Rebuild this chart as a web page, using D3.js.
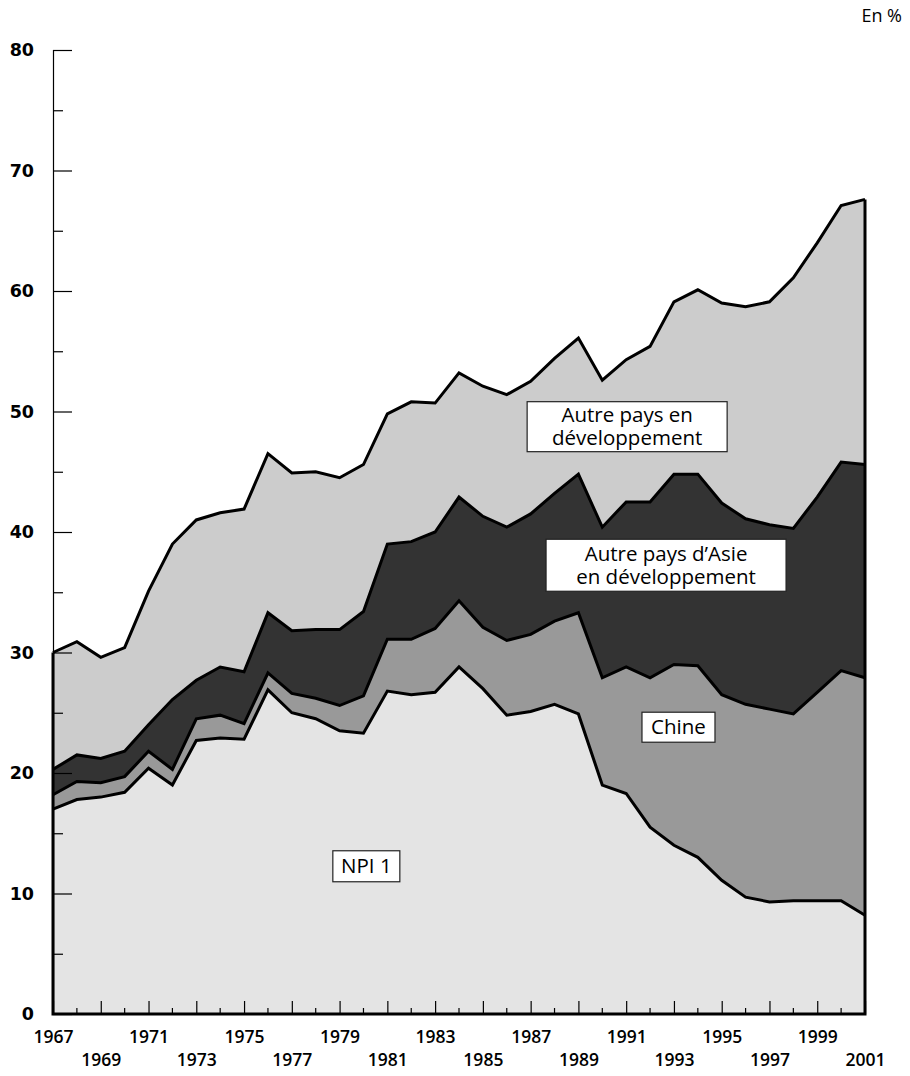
<!DOCTYPE html>
<html>
<head>
<meta charset="utf-8">
<script src="https://cdn.jsdelivr.net/npm/d3@7"></script>
<style>
  html, body { margin: 0; padding: 0; background: #fff; }
  svg { display: block; font-family: "Open Sans", "Noto Sans", sans-serif; }
</style>
</head>
<body>
<svg id="chart" width="910" height="1076"></svg>
<script>
// ---- Data (shares, %) ----
const years = d3.range(1967, 2002);
const npi1 = [17.0,17.8,18.0,18.4,20.4,19.0,22.7,22.9,22.8,26.9,25.0,24.5,23.5,23.3,26.8,26.5,26.7,28.8,27.0,24.8,25.1,25.7,24.9,19.0,18.3,15.5,14.0,13.0,11.1,9.7,9.3,9.4,9.4,9.4,8.2];
const chine = [1.2,1.5,1.2,1.3,1.4,1.3,1.8,1.9,1.3,1.4,1.6,1.7,2.1,3.1,4.3,4.6,5.3,5.5,5.1,6.2,6.4,6.9,8.4,8.9,10.5,12.4,15.0,15.9,15.4,16.0,16.0,15.5,17.3,19.1,19.7];
const asie = [2.1,2.2,2.0,2.1,2.2,5.8,3.2,4.0,4.3,5.0,5.2,5.7,6.3,7.0,7.9,8.1,8.0,8.6,9.2,9.4,10.0,10.6,11.5,12.5,13.7,14.6,15.8,15.9,15.9,15.4,15.3,15.4,16.2,17.3,17.7];
const autres = [9.7,9.4,8.4,8.6,11.1,12.9,13.3,12.8,13.5,13.2,13.1,13.1,12.6,12.2,10.8,11.6,10.7,10.3,10.8,11.0,11.0,11.2,11.3,12.2,11.8,12.9,14.3,15.3,16.6,17.6,18.5,20.8,21.1,21.3,22.0];

const seriesKeys = ["npi1", "chine", "asie", "autres"];
const seriesColors = { npi1: "#e4e4e4", chine: "#999999", asie: "#333333", autres: "#cccccc" };

const yTicks = [0, 10, 20, 30, 40, 50, 60, 70, 80];
const yMinorTicks = [5, 15, 25, 35, 45, 55, 65, 75];
const xTicks = d3.range(1967, 2002, 2);
const xMinorTicks = d3.range(1968, 2001, 2);

const labels = [
  { lines: ["Autre pays en", "développement"], year: 1991.04, value: 48.74, w: 200, h: 50 },
  { lines: ["Autre pays d\u2019Asie", "en développement"], year: 1992.67, value: 37.24, w: 240, h: 52 },
  { lines: ["Chine"], year: 1993.19, value: 23.8, w: 73, h: 30 },
  { lines: ["NPI 1"], year: 1980.12, value: 12.26, w: 67, h: 31 }
];

// ---- Build table ----
const table = years.map((yr, i) => ({ year: yr, npi1: npi1[i], chine: chine[i], asie: asie[i], autres: autres[i] }));
const stacked = d3.stack().keys(seriesKeys)(table);

const svg = d3.select("#chart");
const x = d3.scaleLinear().domain([1967, 2001]).range([53, 865]);
const y = d3.scaleLinear().domain([0, 80]).range([1014, 50]);

// Areas
const area = d3.area()
  .x(d => x(d.data.year))
  .y0(d => y(d[0]))
  .y1(d => y(d[1]));

svg.append("g").selectAll("path")
  .data(stacked)
  .join("path")
  .attr("d", area)
  .attr("fill", d => seriesColors[d.key])
  .attr("stroke", "none");

// Y axis (thin line + inside ticks)
const yAxis = d3.axisLeft(y).tickValues(yTicks).tickSize(-19).tickPadding(19).tickFormat(d3.format("d"));
const gy = svg.append("g").attr("transform", `translate(${x(1967)},0)`).call(yAxis);
gy.attr("font-family", null).attr("font-size", null);
gy.select(".domain").attr("stroke", "#000").attr("stroke-width", 1.2).attr("d", `M0.5,${y(80)}V${y(0)}`);
gy.selectAll(".tick line").attr("stroke", "#000").attr("stroke-width", 1.2);
gy.selectAll(".tick text").attr("fill", "#000")
  .style("font-family", "'DejaVu Sans', sans-serif")
  .style("font-size", "17.5px").style("font-weight", 700);
svg.append("g").attr("transform", `translate(${x(1967)},0)`)
  .selectAll("line").data(yMinorTicks).join("line")
  .attr("x1", 0).attr("x2", 10)
  .attr("y1", d => y(d) + 0.5).attr("y2", d => y(d) + 0.5)
  .attr("stroke", "#000").attr("stroke-width", 1.2);

// Boundary lines
const line = d3.line().x(d => x(d.data.year)).y(d => y(d[1]));
svg.append("g").selectAll("path")
  .data(stacked)
  .join("path")
  .attr("d", line)
  .attr("fill", "none")
  .attr("stroke", "#000")
  .attr("stroke-width", 3);

// Outer frame of stacked area: left, right, bottom
const topSeries = stacked[stacked.length - 1];
svg.append("path")
  .attr("d", `M${x(1967)},${y(topSeries[0][1])}V${y(0)}H${x(2001)}V${y(topSeries[topSeries.length - 1][1])}`)
  .attr("fill", "none").attr("stroke", "#000").attr("stroke-width", 3).attr("stroke-linejoin", "miter");

// X axis ticks (inside) and labels
const xAxis = d3.axisBottom(x).tickValues(xTicks).tickSize(-13).tickPadding(0).tickFormat(d3.format("d"));
const gx = svg.append("g").attr("transform", `translate(0,${y(0)})`).call(xAxis);
gx.attr("font-family", null).attr("font-size", null);
gx.select(".domain").remove();
gx.selectAll(".tick line").attr("stroke", "#000").attr("stroke-width", 1.2);
gx.selectAll(".tick text")
  .attr("fill", "#000").style("font-size", "17.5px").style("font-weight", 600)
  .attr("dy", null)
  .attr("y", (d, i) => (i % 2 === 0 ? 29 : 52));
svg.append("g").attr("transform", `translate(0,${y(0)})`)
  .selectAll("line").data(xMinorTicks).join("line")
  .attr("x1", d => x(d)).attr("x2", d => x(d))
  .attr("y1", 0).attr("y2", -6)
  .attr("stroke", "#000").attr("stroke-width", 1.2);

// Unit
svg.append("text").attr("x", 902).attr("y", 22).attr("text-anchor", "end")
  .style("font-size", "18px").attr("fill", "#000").text("En %");

// Labels
const lg = svg.append("g").selectAll("g").data(labels).join("g")
  .attr("transform", d => `translate(${x(d.year)},${y(d.value)})`);
lg.append("rect")
  .attr("x", d => -d.w / 2).attr("y", d => -d.h / 2)
  .attr("width", d => d.w).attr("height", d => d.h)
  .attr("fill", "#fff").attr("stroke", "#222").attr("stroke-width", 1.2);
lg.append("text")
  .attr("text-anchor", "middle")
  .style("font-size", "20.5px")
  .attr("fill", "#000")
  .each(function (d) {
    const t = d3.select(this);
    const n = d.lines.length;
    d.lines.forEach((s, i) => {
      t.append("tspan")
        .attr("x", 0)
        .attr("y", n === 1 ? 7 : (i === 0 ? -4.5 : 18.5))
        .text(s);
    });
  });
</script>
</body>
</html>
